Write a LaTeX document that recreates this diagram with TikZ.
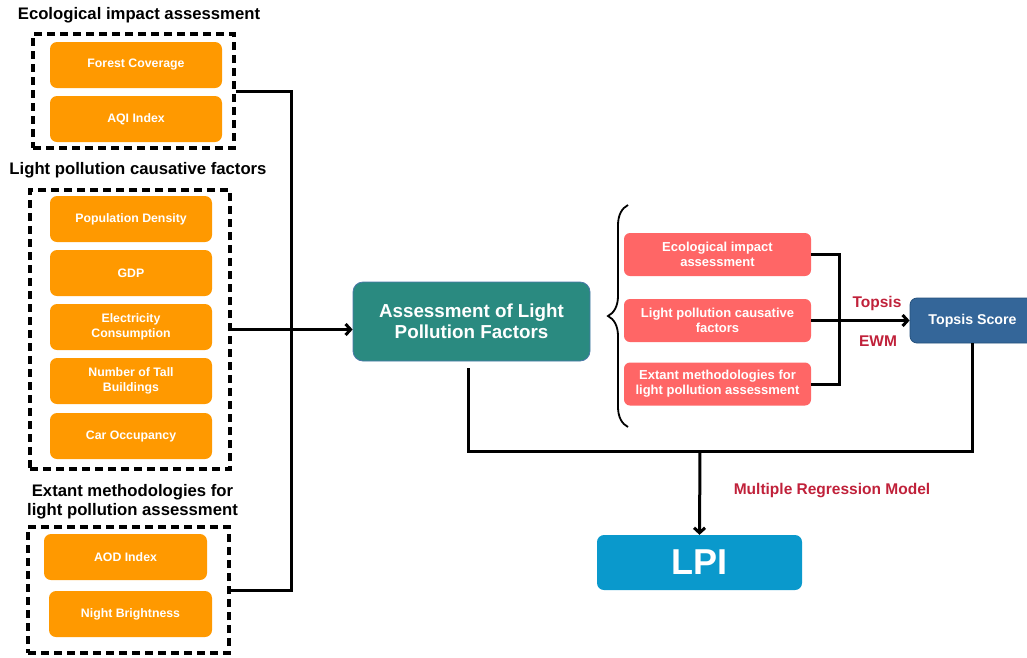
\documentclass[tikz,border=0pt]{standalone}
\usepackage{fontspec}
\setmainfont{Liberation Sans}
\usetikzlibrary{arrows.meta,decorations.pathreplacing,fit}

\definecolor{factororange}{HTML}{FF9900}
\definecolor{metricred}{HTML}{FF6666}
\definecolor{assessteal}{HTML}{2A8A80}
\definecolor{assessedge}{HTML}{4A78A8}
\definecolor{topsisblue}{HTML}{346699}
\definecolor{topsisedge}{HTML}{24507C}
\definecolor{lpiblue}{HTML}{0A99CC}
\definecolor{labelred}{HTML}{C0213A}

\tikzset{
  heading/.style={font=\bfseries\fontsize{16.7}{19.5}\selectfont, align=center, inner sep=0pt},
  group/.style={draw=black, line width=3.4pt, dash pattern=on 8pt off 5pt, inner sep=0pt},
  factor/.style={rectangle, rounded corners=7pt, fill=factororange, text=white, align=center,
    font=\bfseries\fontsize{12.3}{14.5}\selectfont, minimum height=46pt, inner sep=0pt},
  metric/.style={rectangle, rounded corners=6pt, fill=metricred, text=white, align=center,
    font=\bfseries\fontsize{13}{15}\selectfont, minimum width=187pt, minimum height=43pt, inner sep=0pt},
  link/.style={draw=black, line width=3pt},
  arrow/.style={link, -{Straight Barb[length=5pt,width=11pt]}},
  method/.style={text=labelred, font=\bfseries\fontsize{15.5}{18}\selectfont, inner sep=0pt}
}

\begin{document}
\begin{tikzpicture}[x=1pt,y=-1pt]
  \useasboundingbox (0,0) rectangle (1027,657);

  % left side: three groups of factors
  \node[heading] (ecotitle) at (139,15) {Ecological impact assessment};
  \node[factor, minimum width=172pt] (forest) at (136,65) {Forest Coverage};
  \node[factor, minimum width=172pt] (aqi) at (136,119) {AQI Index};
  \node[group, fit={(33,34) (234,148)}] (ecogroup) {};

  \node[heading] (causetitle) at (138,170) {Light pollution causative factors};
  \node[factor, minimum width=162pt] (density) at (131,219) {Population Density};
  \node[factor, minimum width=162pt] (gdp) at (131,273) {GDP};
  \node[factor, minimum width=162pt] (power) at (131,327) {Electricity\\Consumption};
  \node[factor, minimum width=162pt] (tall) at (131,381) {Number of Tall\\Buildings};
  \node[factor, minimum width=162pt] (car) at (131,436) {Car Occupancy};
  \node[group, fit={(30,190) (230,469)}] (causegroup) {};

  \node[heading] (methodtitle) at (132.5,501.5) {Extant methodologies for\\light pollution assessment};
  \node[factor, minimum width=163pt] (aod) at (125.5,557) {AOD Index};
  \node[factor, minimum width=163pt] (night) at (130.5,614) {Night Brightness};
  \node[group, fit={(28,527) (229,653)}] (methodgroup) {};

  % middle
  \node[rectangle, rounded corners=10pt, fill=assessteal, draw=assessedge, line width=0.8pt, text=white,
    align=center, font=\bfseries\fontsize{18.8}{21.5}\selectfont, minimum width=237pt, minimum height=79pt,
    inner sep=0pt] (assess) at (471.5,321.5) {Assessment of Light\\Pollution Factors};

  \coordinate (bus) at (291,329);
  \draw[link] (ecogroup.east) -| (bus);
  \draw[link] (methodgroup.east) -| (bus);
  \draw[arrow] (causegroup.east) -- (assess.west |- causegroup.east);

  % right side
  \draw[line width=1.8pt, decorate, decoration={brace, amplitude=20pt}] (628,427) -- (628,205);

  \node[metric] (ecometric) at (717.5,254.5) {Ecological impact\\assessment};
  \node[metric] (causemetric) at (717.5,320.5) {Light pollution causative\\factors};
  \node[metric] (methodmetric) at (717.5,384) {Extant methodologies for\\light pollution assessment};

  \node[rectangle, rounded corners=7pt, fill=topsisblue, draw=topsisedge, line width=0.8pt, text=white,
    font=\bfseries\fontsize{14.2}{16}\selectfont, minimum width=125pt, minimum height=45pt,
    inner sep=0pt] (topsis) at (972.5,320.5) {Topsis Score};

  \coordinate (topjoin) at (839,320.5);
  \draw[link] (ecometric.east) -| (topjoin);
  \draw[link] (methodmetric.east) -| (topjoin);
  \draw[arrow] (causemetric.east) -- (topsis.west);
  \node[method] (topsislabel) at (877,303) {Topsis};
  \node[method] (ewmlabel) at (878,341) {EWM};

  % bottom
  \node[rectangle, rounded corners=7pt, fill=lpiblue, text=white,
    font=\bfseries\fontsize{36}{40}\selectfont, minimum width=205pt, minimum height=55pt,
    inner sep=0pt] (lpi) at (699.5,562.5) {LPI};

  \coordinate (merge) at (700,451);
  \draw[link] ([xshift=-3.5pt,yshift=-7pt]assess.south) |- (merge) -| (topsis.south);
  \draw[arrow] (merge) -- (lpi.north);
  \node[method] (regression) at (832,491) {Multiple Regression Model};
\end{tikzpicture}
\end{document}
